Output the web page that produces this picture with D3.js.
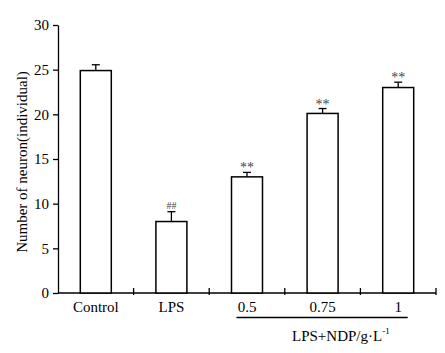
<!DOCTYPE html>
<html><head><meta charset="utf-8">
<script src="https://cdn.jsdelivr.net/npm/d3@7/dist/d3.min.js"></script>
<style>
body{margin:0;background:#fff;}
text{font-family:"Liberation Serif","Times New Roman",serif;fill:#000;}
</style></head>
<body><svg id="c" width="445" height="353"></svg>
<script>
const categories = ["Control","LPS","0.5","0.75","1"];
const values = [24.9, 8.0, 13.0, 20.1, 23.0];
const errors = [0.65, 1.1, 0.5, 0.55, 0.6];
const marks = ["", "##", "**", "**", "**"];
const yTicks = [0,5,10,15,20,25,30];
const yLabel = "Number of neuron(individual)";
const groupLabel = "LPS+NDP/g·L";
const groupSup = "-1";
const groupCats = ["0.5","0.75","1"];

const svg = d3.select("#c");
const mLeft = 58, mRight = 436, mTop = 25, mBottom = 293;
const x = d3.scaleBand().domain(categories).range([mLeft, mRight]).paddingInner(0.59).paddingOuter(0.295);
const y = d3.scaleLinear().domain([0,30]).range([mBottom, mTop]);

// y axis
const ya = svg.append("g").attr("transform",`translate(${mLeft},0)`)
  .call(d3.axisLeft(y).tickValues(yTicks).tickSize(5).tickSizeOuter(0).tickPadding(4));
ya.select(".domain").attr("stroke","#000").attr("stroke-width",1.3);
ya.selectAll(".tick line").attr("stroke","#000").attr("stroke-width",1.3);
ya.selectAll(".tick text").style("font-family","Liberation Serif, serif").style("font-size","15px").attr("fill","#000");

// x axis line
svg.append("line").attr("x1",mLeft).attr("x2",mRight).attr("y1",mBottom).attr("y2",mBottom)
  .attr("stroke","#000").attr("stroke-width",1.3);
// boundary ticks
svg.selectAll(".xt").data(categories).enter().append("line")
  .attr("x1",d=>x(d)+x.bandwidth()/2+x.step()/2).attr("x2",d=>x(d)+x.bandwidth()/2+x.step()/2)
  .attr("y1",mBottom-5).attr("y2",mBottom+2).attr("stroke","#000").attr("stroke-width",1.3);
// x labels
svg.selectAll(".xl").data(categories).enter().append("text")
  .attr("x",d=>x(d)+x.bandwidth()/2).attr("y",312).attr("text-anchor","middle")
  .style("font-size","15px").text(d=>d);

// bars
svg.selectAll(".bar").data(categories).enter().append("rect")
  .attr("x",d=>x(d)).attr("width",x.bandwidth())
  .attr("y",(d,i)=>y(values[i])).attr("height",(d,i)=>mBottom-y(values[i]))
  .attr("fill","#fff").attr("stroke","#000").attr("stroke-width",1.5);
// error bars
categories.forEach((c,i)=>{
  const cx = x(c)+x.bandwidth()/2;
  svg.append("line").attr("x1",cx).attr("x2",cx).attr("y1",y(values[i])).attr("y2",y(values[i]+errors[i]))
    .attr("stroke","#000").attr("stroke-width",1.3);
  svg.append("line").attr("x1",cx-4).attr("x2",cx+4).attr("y1",y(values[i]+errors[i])).attr("y2",y(values[i]+errors[i]))
    .attr("stroke","#000").attr("stroke-width",1.3);
  if(marks[i]){
    svg.append("text").attr("x",cx).attr("y",y(values[i]+errors[i]) + (marks[i]==="##"?-3:0))
      .attr("text-anchor","middle").style("font-size",marks[i]==="##"?"10px":"14px")
      .style("fill","#444").text(marks[i]);
  }
});

// y label
svg.append("text").attr("transform",`translate(27,${(mTop+mBottom)/2+3}) rotate(-90)`)
  .attr("text-anchor","middle").style("font-size","15px").text(yLabel);

// group underline
const gx1 = x(groupCats[0]) + 5, gx2 = x(groupCats[groupCats.length-1]) + x.bandwidth() - 6;
svg.append("line").attr("x1",gx1).attr("x2",gx2).attr("y1",317.5).attr("y2",317.5)
  .attr("stroke","#000").attr("stroke-width",1.3);
const gt = svg.append("text").attr("x",292).attr("y",341).style("font-size","15px");
gt.append("tspan").text(groupLabel);
gt.append("tspan").attr("dy",-7).style("font-size","9px").text(groupSup);
</script></body></html>
